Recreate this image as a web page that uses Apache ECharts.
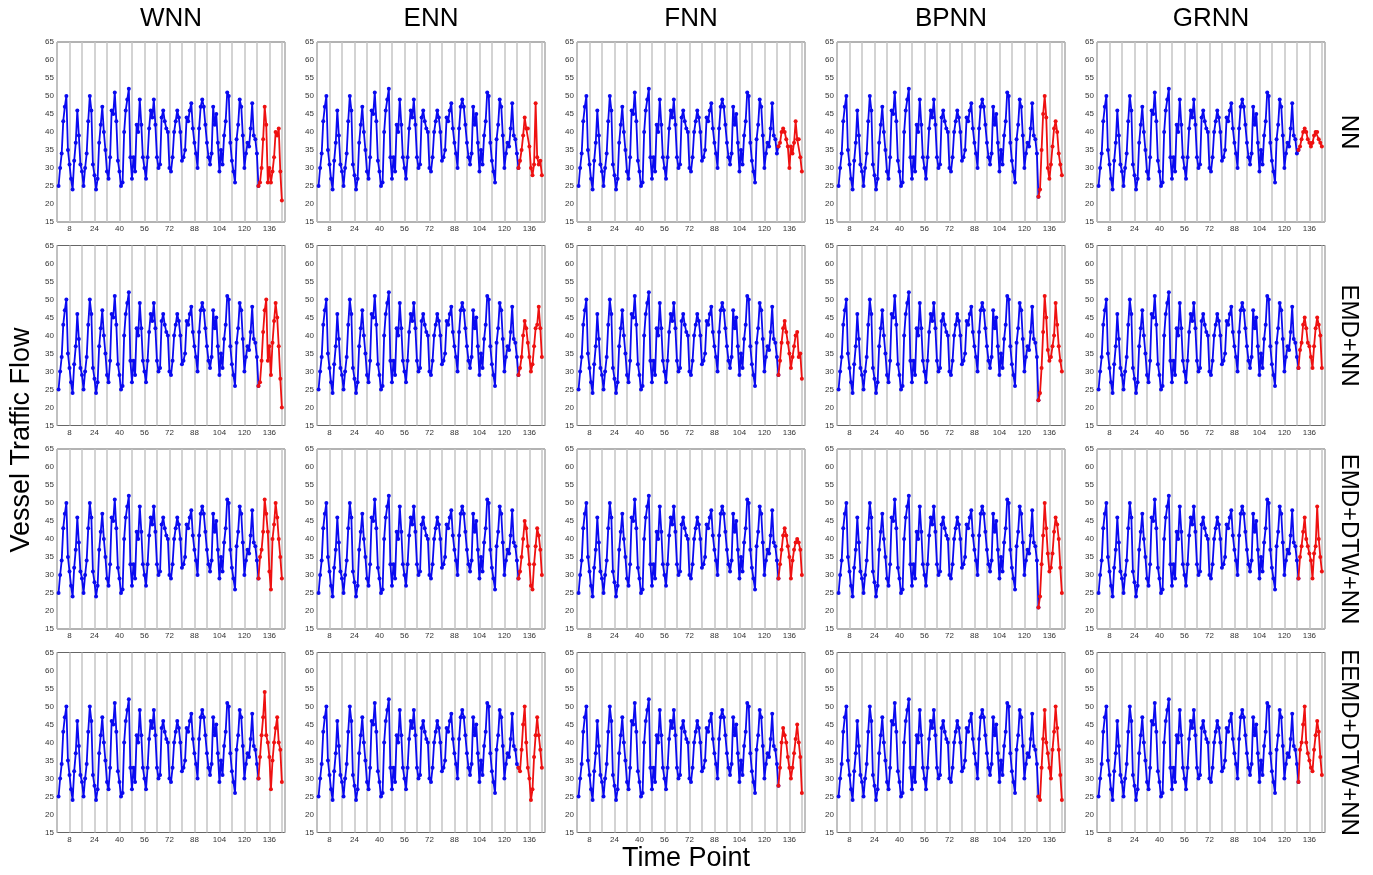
<!DOCTYPE html>
<html><head><meta charset="utf-8">
<script src="https://cdn.jsdelivr.net/npm/echarts/dist/echarts.min.js"></script>
<style>html,body{margin:0;padding:0;background:#fff}#c{width:1373px;height:875px}</style>
</head><body><div id="c"></div>
<script>
const models = ['WNN', 'ENN', 'FNN', 'BPNN', 'GRNN'];
const methods = ['NN', 'EMD+NN', 'EMD+DTW+NN', 'EEMD+DTW+NN'];
const xTickLabels = [8, 24, 40, 56, 72, 88, 104, 120, 136];
const yTickLabels = [15, 20, 25, 30, 35, 40, 45, 50, 55, 60, 65];

// observed vessel traffic flow, time points 1..128
const observed = [25,30,34,43,47,50,35,31,27,24,
  32,37,46,39,31,29,25,30,34,43,
  50,46,31,28,24,27,37,42,47,40,
  35,29,27,33,46,45,51,43,32,29,
  25,26,40,46,49,52,33,27,33,29,
  42,40,49,42,33,30,27,33,41,46,
  44,49,42,33,30,31,44,46,43,41,
  40,30,29,33,40,43,46,44,40,32,
  33,35,44,43,46,48,41,37,34,30,
  41,47,49,47,42,37,33,31,34,47,
  42,45,37,29,35,31,39,43,51,50,
  37,32,29,26,38,42,49,47,39,30,
  34,37,36,41,48,39,38,34];

// predictions, time points 129..144
const pred_WNN_NN        = [25,26,30,38,47,42,26,30,26,29,33,40,39,41,29,21];
const pred_WNN_EMD       = [26,27,33,41,47,50,33,37,29,38,44,49,45,37,28,20];
const pred_WNN_EMDDTW    = [29,35,37,42,51,47,42,31,26,40,44,50,46,40,35,29];
const pred_WNN_EEMDDTW   = [30,36,42,47,54,42,40,36,27,35,40,44,47,40,38,29];
const pred_ENN_NN        = [30,32,35,39,44,41,41,36,30,28,31,48,33,31,32,28];
const pred_ENN_EMD       = [29,31,34,40,44,42,38,34,30,32,37,42,43,48,42,34];
const pred_ENN_EMDDTW    = [29,31,35,40,45,43,38,33,27,26,33,38,43,41,37,30];
const pred_ENN_EEMDDTW   = [33,32,38,45,50,40,33,30,24,27,36,42,47,42,38,33];
const pred_FNN_NN        = [36,37,40,41,40,38,36,30,36,34,37,43,38,38,33,29];
const pred_FNN_EMD       = [29,33,38,42,44,41,38,35,31,34,37,40,41,34,35,28];
const pred_FNN_EMDDTW    = [29,33,37,41,43,41,38,35,29,34,37,39,40,39,37,30];
const pred_FNN_EEMDDTW   = [28,33,40,44,42,40,36,33,30,33,37,41,45,40,36,26];
const pred_BPNN_NN       = [22,24,35,45,50,44,30,27,31,36,41,43,40,34,31,28];
const pred_BPNN_EMD      = [22,24,31,41,51,45,36,33,34,37,40,49,43,37,33,30];
const pred_BPNN_EMDDTW   = [21,24,33,41,50,43,36,31,32,36,42,46,44,40,32,25];
const pred_BPNN_EEMDDTW  = [25,24,33,41,49,40,37,33,30,38,43,50,44,38,31,24];
const pred_GRNN_NN       = [35,36,38,40,41,40,38,37,36,37,39,40,40,38,37,36];
const pred_GRNN_EMD      = [31,36,38,43,45,42,38,37,34,31,37,42,45,43,40,31];
const pred_GRNN_EMDDTW   = [29,35,38,42,46,40,38,36,34,29,36,38,49,40,35,31];
const pred_GRNN_EEMDDTW  = [29,38,40,45,50,40,37,35,33,32,38,42,46,43,36,31];

const predictions = [
  [pred_WNN_NN, pred_WNN_EMD, pred_WNN_EMDDTW, pred_WNN_EEMDDTW],
  [pred_ENN_NN, pred_ENN_EMD, pred_ENN_EMDDTW, pred_ENN_EEMDDTW],
  [pred_FNN_NN, pred_FNN_EMD, pred_FNN_EMDDTW, pred_FNN_EEMDDTW],
  [pred_BPNN_NN, pred_BPNN_EMD, pred_BPNN_EMDDTW, pred_BPNN_EEMDDTW],
  [pred_GRNN_NN, pred_GRNN_EMD, pred_GRNN_EMDDTW, pred_GRNN_EEMDDTW]
];

const colLeft = [57, 317, 577, 837, 1097];
const rowTop = [42, 245.5, 449, 652.5];
const W = 228, H = 180;
const FONT = 'Liberation Sans, Arial, sans-serif';
const BLUE = '#0a0af0', RED = '#ee1111';

const grids = [], xAxes = [], yAxes = [], series = [];
let k = 0;
for (let r = 0; r < 4; r++) {
  for (let c = 0; c < 5; c++) {
    grids.push({left: colLeft[c], top: rowTop[r], width: W, height: H,
      show: true, borderColor: '#666', borderWidth: 1, backgroundColor: '#fff'});
    xAxes.push({type: 'value', gridIndex: k, min: 0, max: 146, interval: 8,
      axisLine: {show: false}, axisTick: {show: false},
      splitLine: {show: true, lineStyle: {color: '#c4c4c4', width: 1.5}},
      axisLabel: {fontSize: 8, color: '#333', margin: 3, fontFamily: FONT,
        formatter: v => xTickLabels.indexOf(v) >= 0 ? String(v) : ''}});
    yAxes.push({type: 'value', gridIndex: k, min: 15, max: 65, interval: 5,
      axisLine: {show: false}, axisTick: {show: false}, splitLine: {show: false},
      axisLabel: {fontSize: 8, color: '#333', margin: 3, fontFamily: FONT,
        formatter: v => yTickLabels.indexOf(v) >= 0 ? String(v) : ''}});
    const pred = predictions[c][r];
    const obsData = observed.map((v, i) => [i + 1, v]);
    obsData.push([observed.length + 1, pred[0]]);
    series.push({type: 'line', xAxisIndex: k, yAxisIndex: k, data: obsData,
      symbol: 'circle', symbolSize: 4, showSymbol: true,
      lineStyle: {color: BLUE, width: 1.8}, itemStyle: {color: BLUE},
      silent: true, animation: false, z: 3});
    series.push({type: 'line', xAxisIndex: k, yAxisIndex: k,
      data: pred.map((v, i) => [observed.length + 1 + i, v]),
      symbol: 'circle', symbolSize: 4, showSymbol: true,
      lineStyle: {color: RED, width: 1.8}, itemStyle: {color: RED},
      silent: true, animation: false, z: 4});
    k++;
  }
}

const graphics = [];
models.forEach((m, c) => graphics.push({type: 'text', x: colLeft[c] + W / 2, y: 19,
  style: {text: m, fontSize: 26, fontFamily: FONT, fill: '#000', textAlign: 'center', textVerticalAlign: 'middle'}}));
methods.forEach((m, r) => graphics.push({type: 'text', x: 1349, y: rowTop[r] + H / 2, rotation: -Math.PI / 2,
  style: {text: m, fontSize: 24, fontFamily: FONT, fill: '#000', textAlign: 'center', textVerticalAlign: 'middle'}}));
graphics.push({type: 'text', x: 22, y: 440, rotation: Math.PI / 2,
  style: {text: 'Vessel Traffic Flow', fontSize: 27, fontFamily: FONT, fill: '#000', textAlign: 'center', textVerticalAlign: 'middle'}});
graphics.push({type: 'text', x: 686, y: 859,
  style: {text: 'Time Point', fontSize: 27, fontFamily: FONT, fill: '#000', textAlign: 'center', textVerticalAlign: 'middle'}});

const chart = echarts.init(document.getElementById('c'), null, {renderer: 'canvas'});
chart.setOption({animation: false, backgroundColor: '#fff',
  grid: grids, xAxis: xAxes, yAxis: yAxes, series: series, graphic: graphics});
</script></body></html>
